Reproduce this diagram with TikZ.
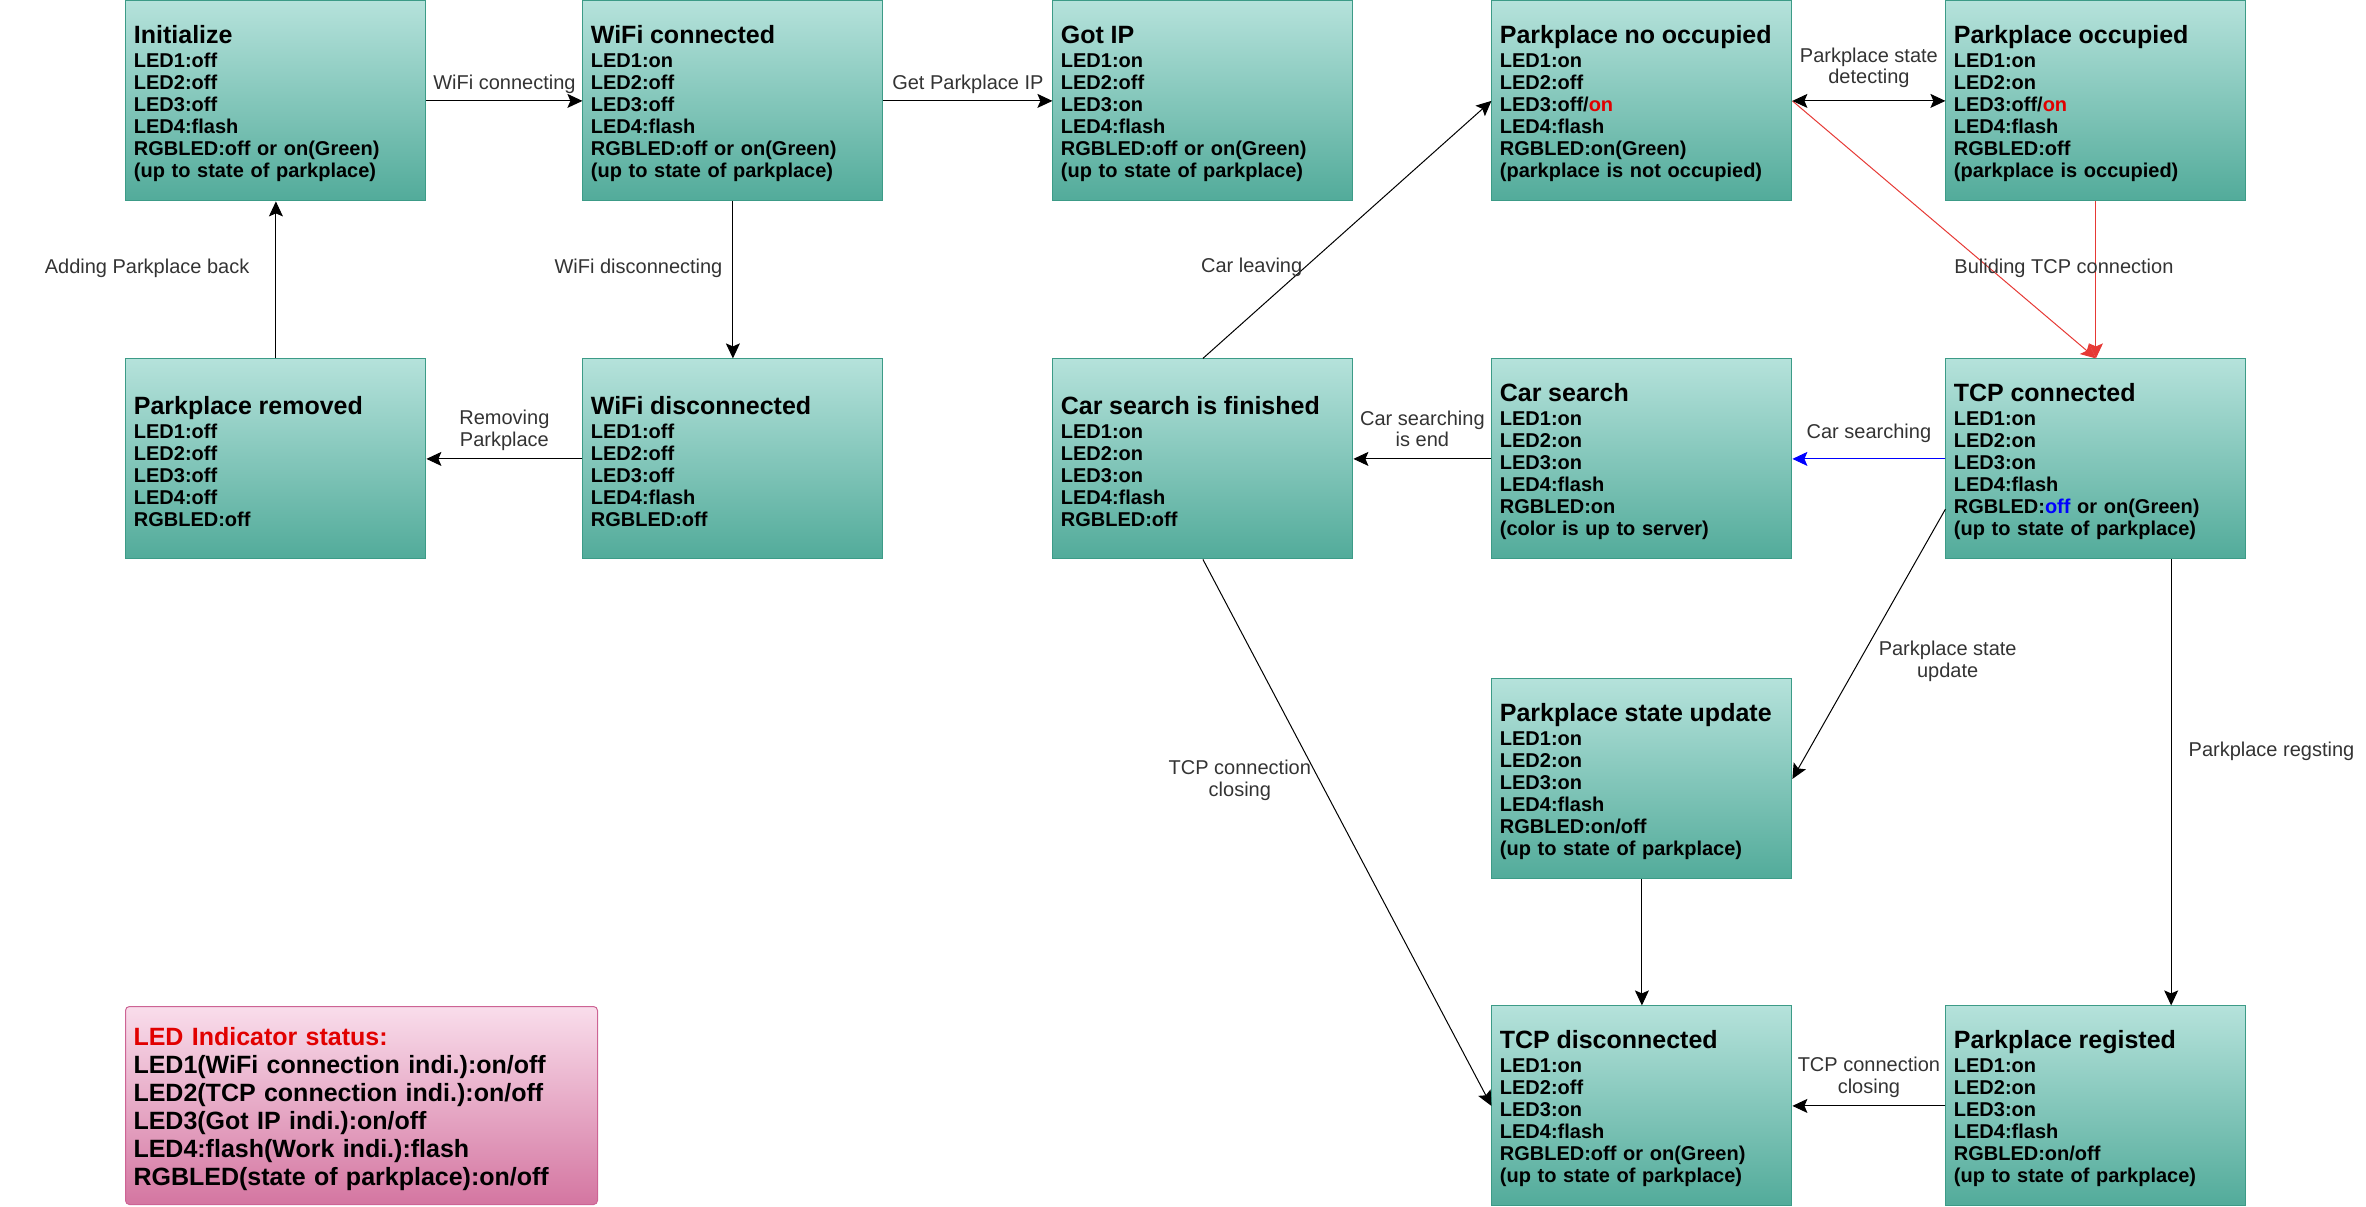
\documentclass[tikz,border=0pt]{standalone}
\usepackage{fontspec}
\setmainfont{Liberation Sans}
\usepackage{tikz}
\usetikzlibrary{matrix,positioning,calc,arrows.meta}

\definecolor{statetop}{RGB}{181,226,219}
\definecolor{statebot}{RGB}{82,171,154}
\definecolor{stateline}{RGB}{60,155,135}
\definecolor{legtop}{RGB}{249,221,235}
\definecolor{legbot}{RGB}{212,118,161}
\definecolor{legline}{RGB}{205,100,148}
\definecolor{ledred}{RGB}{225,0,0}
\definecolor{tcpred}{RGB}{230,57,53}
\definecolor{ledblue}{RGB}{0,0,255}

\newcommand{\sttitle}[1]{\rule{0pt}{11.3pt}{\fontsize{12.5}{11}\selectfont #1}\\[0.9pt]}

\begin{document}
\begin{tikzpicture}[x=0.5pt,y=-0.5pt,
  >={Stealth[length=7.5pt,width=7pt,inset=1.5pt]},
  state/.style={draw=stateline,line width=0.5pt,top color=statetop,bottom color=statebot,
    minimum width=150pt,minimum height=100pt,text width=142pt,inner xsep=4pt,inner ysep=2pt,
    align=left,font=\bfseries\fontsize{10}{11}\selectfont},
  legend/.style={draw=legline,line width=0.5pt,rounded corners=2pt,top color=legtop,bottom color=legbot,
    minimum width=236pt,minimum height=99pt,text width=228pt,inner xsep=4pt,
    align=left,font=\bfseries\fontsize{12.5}{14}\selectfont},
  lbl/.style={font=\fontsize{10}{10.8}\selectfont,text=black!80,align=center,inner sep=1pt}]
\useasboundingbox (0,0) rectangle (2366,1206);

\matrix (m) [matrix anchor=north west,inner sep=0pt,column sep=69pt,row sep=59.5pt] at (125,0)
{
  \node[state] (init) {\sttitle{Initialize}LED1:off\\LED2:off\\LED3:off\\LED4:flash\\RGBLED:off or on(Green)\\(up to state of parkplace)}; &[9pt]
  \node[state] (wific) {\sttitle{WiFi connected}LED1:on\\LED2:off\\LED3:off\\LED4:flash\\RGBLED:off or on(Green)\\(up to state of parkplace)}; &[15.5pt]
  \node[state] (gotip) {\sttitle{Got IP}LED1:on\\LED2:off\\LED3:on\\LED4:flash\\RGBLED:off or on(Green)\\(up to state of parkplace)}; &
  \node[state] (nooc) {\sttitle{Parkplace no occupied}LED1:on\\LED2:off\\LED3:off/\textcolor{ledred}{on}\\LED4:flash\\RGBLED:on(Green)\\(parkplace is not occupied)}; &[7.5pt]
  \node[state] (occ) {\sttitle{Parkplace occupied}LED1:on\\LED2:on\\LED3:off/\textcolor{ledred}{on}\\LED4:flash\\RGBLED:off\\(parkplace is occupied)}; \\[19pt]
  \node[state] (removed) {\sttitle{Parkplace removed}LED1:off\\LED2:off\\LED3:off\\LED4:off\\RGBLED:off}; &[9pt]
  \node[state] (wifid) {\sttitle{WiFi disconnected}LED1:off\\LED2:off\\LED3:off\\LED4:flash\\RGBLED:off}; &[15.5pt]
  \node[state] (csfin) {\sttitle{Car search is finished}LED1:on\\LED2:on\\LED3:on\\LED4:flash\\RGBLED:off}; &
  \node[state] (cs) {\sttitle{Car search}LED1:on\\LED2:on\\LED3:on\\LED4:flash\\RGBLED:on\\(color is up to server)}; &[7.5pt]
  \node[state] (tcpc) {\sttitle{TCP connected}LED1:on\\LED2:on\\LED3:on\\LED4:flash\\RGBLED:\textcolor{ledblue}{off} or on(Green)\\(up to state of parkplace)}; \\
  &[9pt] &[15.5pt] &
  \node[state] (psu) {\sttitle{Parkplace state update}LED1:on\\LED2:on\\LED3:on\\LED4:flash\\RGBLED:on/off\\(up to state of parkplace)}; &[7.5pt] \\[3.5pt]
  &[9pt] &[15.5pt] &
  \node[state] (tcpd) {\sttitle{TCP disconnected}LED1:on\\LED2:off\\LED3:on\\LED4:flash\\RGBLED:off or on(Green)\\(up to state of parkplace)}; &[7.5pt]
  \node[state] (preg) {\sttitle{Parkplace registed}LED1:on\\LED2:on\\LED3:on\\LED4:flash\\RGBLED:on/off\\(up to state of parkplace)}; \\
};

\node[legend,anchor=north west] (legend) at (125,1006)
  {\rule{0pt}{12.1pt}\textcolor{ledred}{LED Indicator status:}\\LED1(WiFi connection indi.):on/off\\LED2(TCP connection indi.):on/off\\LED3(Got IP indi.):on/off\\LED4:flash(Work indi.):flash\\RGBLED(state of parkplace):on/off};

% red ones first, so the black tip at nooc stays on top
\path[->,line width=0.5pt]
(nooc.east) edge[draw=tcpred] (tcpc.north)
(occ) edge[draw=tcpred] node[lbl,xshift=-16pt,yshift=6pt] {Buliding TCP connection} (tcpc)
;
\path[->,line width=0.5pt]
(init) edge node[lbl,above=2.3pt] {WiFi connecting} (wific)
(wific) edge node[lbl,above=2.3pt] {Get Parkplace IP} (gotip)
edge node[lbl,left=4pt,yshift=6pt] {WiFi disconnecting} (wifid)
(wifid) edge node[lbl,above=2.9pt] {Removing\\Parkplace} (removed)
(removed) edge node[lbl,left=12pt,yshift=6pt] {Adding Parkplace back} (init)
(csfin.north) edge node[lbl,pos=0.353,anchor=east] {Car leaving} (nooc.west)
(nooc) edge[<->] node[lbl,above=5.2pt] {Parkplace state\\detecting} (occ)
(cs) edge node[lbl,above=4.8pt] {Car searching\\is end} (csfin)
(tcpc) edge[draw=ledblue] node[lbl,above=6.8pt] {Car searching} (cs)
($(tcpc.south west)!0.25!(tcpc.north west)$) edge node[lbl,pos=0.563,anchor=west,xshift=8.5pt] {Parkplace state\\update} (psu.east)
($(tcpc.south west)!0.75!(tcpc.south east)$) edge node[lbl,pos=0.43,anchor=west,xshift=7.5pt] {Parkplace regsting} ($(preg.north west)!0.75!(preg.north east)$)
(psu) edge (tcpd)
(csfin.south) edge node[lbl,pos=0.404,anchor=east,xshift=-3pt] {TCP connection\\closing} (tcpd.west)
(preg) edge node[lbl,above=2.9pt] {TCP connection\\closing} (tcpd)
;
\end{tikzpicture}
\end{document}
